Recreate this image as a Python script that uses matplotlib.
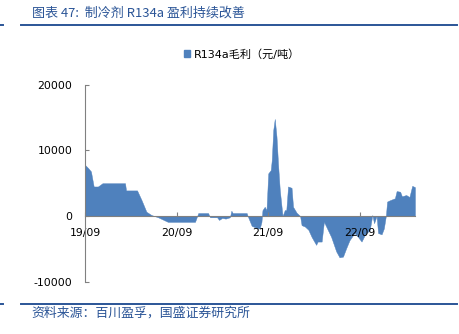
import matplotlib
matplotlib.use("Agg")
import matplotlib.pyplot as plt
from matplotlib.patches import Patch
from matplotlib.lines import Line2D
import pandas as pd

plt.rcParams['font.family'] = ['DejaVu Sans', 'Noto Sans CJK SC']

title = "图表 47:  制冷剂 R134a 盈利持续改善"
source = "资料来源：百川盈孚，国盛证券研究所"
series_name = "R134a毛利（元/吨）"

dates = [
    "2019-09-01", "2019-09-14", "2019-09-25", "2019-10-06", "2019-10-23", "2019-11-10",
    "2020-02-08", "2020-02-12", "2020-03-27", "2020-04-14", "2020-05-03", "2020-05-23",
    "2020-06-19", "2020-07-28", "2020-11-13", "2020-11-26", "2021-01-04", "2021-01-12",
    "2021-02-09", "2021-02-17", "2021-03-01", "2021-03-15", "2021-04-01", "2021-04-07",
    "2021-04-12", "2021-06-07", "2021-06-11", "2021-06-27", "2021-07-21", "2021-07-29",
    "2021-08-05", "2021-08-09", "2021-08-18", "2021-08-25", "2021-09-01", "2021-09-11",
    "2021-09-15", "2021-09-21", "2021-09-27", "2021-10-04", "2021-10-10", "2021-10-17",
    "2021-10-28", "2021-11-06", "2021-11-12", "2021-11-19", "2021-12-03", "2021-12-09",
    "2021-12-23", "2022-01-06", "2022-01-12", "2022-01-25", "2022-02-08", "2022-02-21",
    "2022-03-11", "2022-03-17", "2022-04-02", "2022-04-11", "2022-04-20", "2022-05-10",
    "2022-05-30", "2022-06-12", "2022-06-26", "2022-07-09", "2022-07-22", "2022-08-11",
    "2022-08-25", "2022-09-08", "2022-09-21", "2022-10-11", "2022-10-21", "2022-10-28",
    "2022-11-07", "2022-11-13", "2022-11-27", "2022-12-06", "2022-12-14", "2022-12-19",
    "2022-12-30", "2023-01-19", "2023-01-26", "2023-02-09", "2023-02-16", "2023-03-05",
    "2023-03-18", "2023-03-29", "2023-04-09",
]
margin = [
    7800, 7300, 6800, 4500, 4500, 5000,
    5000, 3900, 3900, 2400, 650, 150,
    -200, -900, -900, 450, 450, -200,
    -200, -600, -300, -400, -200, 800,
    450, 450, 0, -1500, -1900, -1900,
    -900, 900, 1400, 900, 6500, 7000,
    8500, 13100, 14800, 12100, 8000, 4000,
    0, 900, 900, 4500, 4300, 1400,
    500, 0, -1400, -1600, -2100, -3200,
    -4400, -3900, -3900, -870, -1600, -3200,
    -5400, -6300, -6200, -4900, -3700, -2600,
    -3200, -3900, -2900, -2100, 150, -1100,
    0, -2600, -2800, -1900, 0, 2200,
    2400, 2700, 3800, 3700, 3000, 3200,
    2900, 4600, 4400,
]
tick_dates = ["2019-09-01", "2020-09-01", "2021-09-01", "2022-09-01"]
tick_labels = ["19/09", "20/09", "21/09", "22/09"]
y_ticks = [-10000, 0, 10000, 20000]

x = pd.to_datetime(dates)
blue = "#4F81BD"
dark_blue = "#2B5597"
gray = "#808080"

fig = plt.figure(figsize=(4.59, 3.34), dpi=100)
ax = fig.add_axes([0.185, 0.157, 0.719, 0.589])
ax.fill_between(x, margin, 0, color=blue, linewidth=0.3, edgecolor=blue)

ax.set_ylim(-10000, 20000)
ax.set_xlim(pd.Timestamp(tick_dates[0]), x[-1])
ax.set_yticks(y_ticks)
ax.set_yticklabels([str(v) for v in y_ticks])
ax.set_xticks(pd.to_datetime(tick_dates))
ax.set_xticklabels(tick_labels)

for s in ["top", "right"]:
    ax.spines[s].set_visible(False)
ax.spines["bottom"].set_position(("data", 0))
ax.spines["bottom"].set_color(gray)
ax.spines["left"].set_color(gray)
ax.spines["bottom"].set_zorder(5)
ax.tick_params(axis="both", direction="in", length=3, color=gray, labelsize=7.8, labelcolor="black")
ax.tick_params(axis="y", pad=9)
ax.tick_params(axis="x", pad=9)

handle = Patch(facecolor=blue, edgecolor=blue)
fig.legend([handle], [series_name], loc="center", bbox_to_anchor=(0.527, 0.838),
           frameon=False, handlelength=0.6, handleheight=0.6, handletextpad=0.3,
           prop={'family': ['DejaVu Sans', 'Noto Sans CJK SC'], 'size': 8})

fig.text(0.069, 0.961, title, color=dark_blue, fontsize=9.4, ha="left", va="center",
         family=['Noto Sans CJK SC', 'DejaVu Sans'], style="italic")
fig.add_artist(Line2D([21 / 459, 457 / 459], [1 - 24.5 / 334] * 2, color=dark_blue, linewidth=1.4))
fig.add_artist(Line2D([0, 3 / 459], [1 - 24.5 / 334] * 2, color=dark_blue, linewidth=1.4))
fig.add_artist(Line2D([21 / 459, 457 / 459], [1 - 303.7 / 334] * 2, color=dark_blue, linewidth=1.4))
fig.add_artist(Line2D([0, 3 / 459], [1 - 303.7 / 334] * 2, color=dark_blue, linewidth=1.4))
fig.text(0.069, 1 - 313 / 334, source, color=dark_blue, fontsize=9.3, ha="left", va="center",
         family=['Noto Sans CJK SC', 'DejaVu Sans'], style="italic")

fig.savefig("out.png", dpi=100)
